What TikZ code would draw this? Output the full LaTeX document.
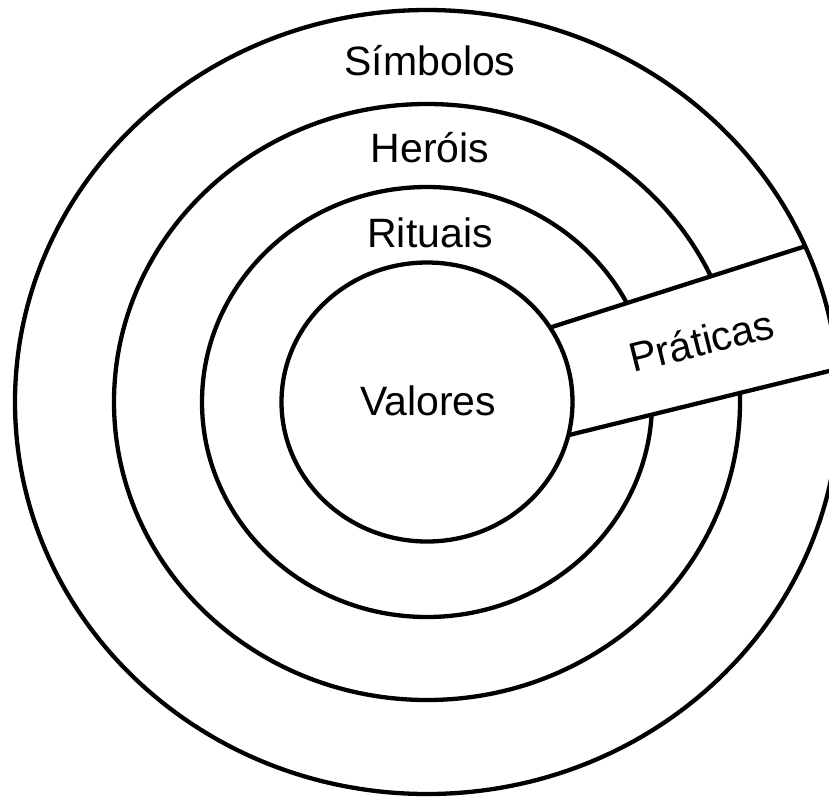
\documentclass[tikz,border=0pt]{standalone}
\usepackage{fontspec}
\setmainfont{Liberation Sans}
\usepackage{tikz}

\begin{document}
\begin{tikzpicture}[x=1pt,y=-1pt,line width=4.3pt,font=\fontsize{41}{49}\selectfont]
\def\cx{427}
\def\cy{402}
\clip (0,0) rectangle (829,796);
\draw (\cx,\cy) ellipse [x radius=313, y radius=298];
\draw (\cx,\cy) ellipse [x radius=225, y radius=215];
\begin{scope}
\clip (\cx,\cy) ellipse [x radius=412, y radius=392];
\fill[white] (500,343.5) -- (860,228.8) -- (860,363.4) -- (500,452) -- cycle;
\draw (500,343.5) -- (860,228.8);
\draw (500,452) -- (860,363.4);
\end{scope}
\filldraw[fill=white] (\cx,\cy) ellipse [x radius=145.5, y radius=139.5];
\draw (\cx,\cy) ellipse [x radius=412, y radius=392];
\node[anchor=base] (simbolos) at (430,75) {Símbolos};
\node[anchor=base] (herois) at (430,162) {Heróis};
\node[anchor=base] (rituais) at (430,247) {Rituais};
\node[anchor=base] (valores) at (428,415) {Valores};
\node[anchor=base,rotate=14] (praticas) at (705,355) {Práticas};
\end{tikzpicture}
\end{document}
